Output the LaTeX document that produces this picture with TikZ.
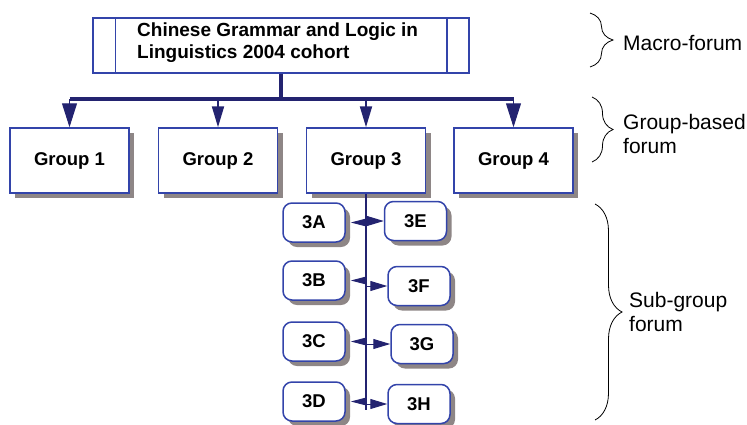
\documentclass[tikz,border=0pt]{standalone}
\usepackage{fontspec}
\setmainfont{Liberation Sans}
\usetikzlibrary{arrows.meta,shadows,decorations.pathreplacing}
\definecolor{boxblue}{RGB}{51,68,170}
\definecolor{navy}{RGB}{35,35,112}
\definecolor{shadowgray}{RGB}{142,134,134}
\begin{document}
\begin{tikzpicture}[x=1pt,y=-1pt,
  shadowed/.style={drop shadow={shadow xshift=5pt, shadow yshift=-5pt, fill=shadowgray, opacity=1}},
  gbox/.style={draw=boxblue, line width=1.5pt, fill=white, minimum width=119pt, minimum height=65pt, inner sep=0pt,
    font=\fontsize{18.5}{22}\selectfont\bfseries, shadowed},
  sbox/.style={draw=boxblue, line width=1.5pt, fill=white, rounded corners=9pt, minimum width=62pt, minimum height=39pt, inner sep=0pt,
    font=\fontsize{18.5}{22}\selectfont\bfseries, shadowed},
  topbox/.style={draw=boxblue, line width=1.5pt, fill=white, minimum width=376pt, minimum height=55pt, inner sep=0pt},
  thickline/.style={draw=navy, line width=4pt},
  bigarrow/.style={draw=navy, fill=navy, line width=1pt, -{Triangle[length=24pt,width=15pt]}},
  midarrow/.style={draw=navy, fill=navy, line width=2pt, -{Triangle[length=21pt,width=12pt]}},
  larrow/.style={draw=navy, fill=navy, line width=1pt, shorten >=5pt, -{Triangle[length=16pt,width=8pt]}},
  rarrow/.style={draw=navy, fill=navy, line width=1pt, -{Triangle[length=17pt,width=10pt]}},
  bracestyle/.style={draw=black, line width=0.8pt, decorate},
  lbl/.style={font=\fontsize{21}{24}\selectfont, inner sep=0pt, anchor=base west}
]
\useasboundingbox (0,0) rectangle (747,424);

% top box
\node[topbox] (top) at (281,45.5) {};
\draw[boxblue, line width=1.5pt] ([xshift=23pt]top.north west) -- ([xshift=23pt]top.south west);
\draw[boxblue, line width=1.5pt] ([xshift=-23pt]top.north east) -- ([xshift=-23pt]top.south east);
\node[font=\fontsize{19}{22}\selectfont\bfseries, inner sep=0pt, anchor=base west] (toptext) at (137,36)
  {\begin{tabular}[t]{@{}l@{}}Chinese Grammar and Logic in\\Linguistics 2004 cohort\end{tabular}};

% groups
\node[gbox] (g1) at (69.5,160.5) {Group 1};
\node[gbox] (g2) at (218,160.5) {Group 2};
\node[gbox] (g3) at (366,160.5) {Group 3};
\node[gbox] (g4) at (513.5,160.5) {Group 4};

\coordinate (bar) at (281,99);
\draw[thickline] (top.south) -- (bar);
\draw[thickline] (g1.north |- bar) -- (g4.north |- bar);
\draw[bigarrow] (g1.north |- bar) -- (g1.north);
\draw[midarrow] (g2.north |- bar) -- (g2.north);
\draw[midarrow] (g3.north |- bar) -- (g3.north);
\draw[bigarrow] (g4.north |- bar) -- (g4.north);

% sub-groups
\node[sbox] (s3A) at (314,222.5) {3A};
\node[sbox] (s3B) at (314,280.5) {3B};
\node[sbox] (s3C) at (314,341.5) {3C};
\node[sbox] (s3D) at (314,401.5) {3D};
\node[sbox] (s3E) at (415.5,221) {3E};
\node[sbox] (s3F) at (419,286) {3F};
\node[sbox] (s3G) at (422,344) {3G};
\node[sbox] (s3H) at (419,404) {3H};

\coordinate (trunkend) at (366,410);
\draw[navy, line width=2pt] (g3.south) -- (trunkend);

\draw[larrow] (g3.south |- s3A.east) -- (s3A.east);
\draw[larrow] (g3.south |- s3B.east) -- (s3B.east);
\draw[larrow] (g3.south |- s3C.east) -- (s3C.east);
\draw[larrow] (g3.south |- s3D.east) -- (s3D.east);
\draw[rarrow] (g3.south |- s3E.west) -- (s3E.west);
\draw[rarrow] (g3.south |- s3F.west) -- (s3F.west);
\draw[rarrow] (g3.south |- s3G.west) -- (s3G.west);
\draw[rarrow] (g3.south |- s3H.west) -- (s3H.west);

% braces
\coordinate (b1a) at (590,13);
\coordinate (b1b) at (590,67);
\draw[bracestyle, decoration={brace, amplitude=23pt}] (b1a) -- (b1b);
\coordinate (b2a) at (592,97);
\coordinate (b2b) at (592,162);
\draw[bracestyle, decoration={brace, amplitude=21pt}] (b2a) -- (b2b);
\coordinate (b3a) at (595,204);
\coordinate (b3b) at (595,420);
\draw[bracestyle, decoration={brace, amplitude=27pt}] (b3a) -- (b3b);

\node[lbl] (macro) at (623,50) {Macro-forum};
\node[lbl] (groupforum) at (623,129) {\begin{tabular}[t]{@{}l@{}}Group-based\\forum\end{tabular}};
\node[lbl] (subforum) at (629,307.5) {\begin{tabular}[t]{@{}l@{}}Sub-group\\forum\end{tabular}};
\end{tikzpicture}
\end{document}
